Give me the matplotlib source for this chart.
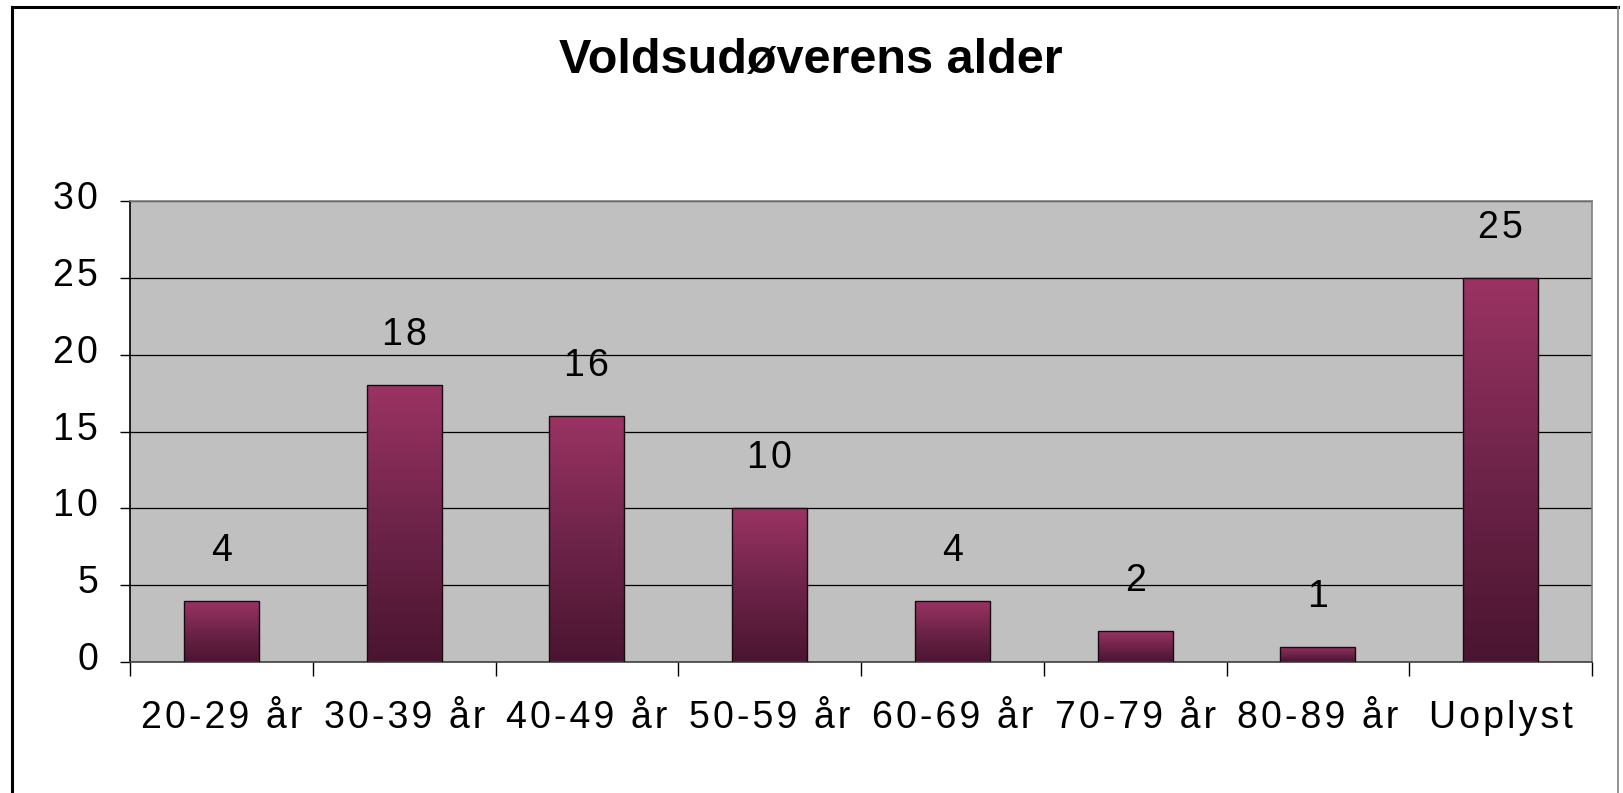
import numpy as np
import matplotlib.pyplot as plt
from matplotlib.colors import LinearSegmentedColormap
from matplotlib.lines import Line2D
import matplotlib.transforms as mtransforms

plt.rcParams['font.family'] = ['Liberation Sans', 'DejaVu Sans']

categories = ["20-29 år", "30-39 år", "40-49 år", "50-59 år",
              "60-69 år", "70-79 år", "80-89 år", "Uoplyst"]
values = [4, 18, 16, 10, 4, 2, 1, 25]
yticks = [0, 5, 10, 15, 20, 25, 30]


def spaced(s):
    # old Excel renders text with a bit of extra letter spacing
    return '\u200a'.join(s)


W, H = 1623, 793
fig = plt.figure(figsize=(W/100, H/100), dpi=100)
ax = fig.add_axes([130/W, 1 - 662/H, (1592-130)/W, (662-201)/H])
ax.set_facecolor('#c0c0c0')

cmap = LinearSegmentedColormap.from_list('plum', ['#4a1530', '#6e2449', '#9b3363'])
grad = np.linspace(0, 1, 256).reshape(-1, 1)

bw = 0.41
x = np.arange(len(categories))
bars = ax.bar(x, values, width=bw, color='none', edgecolor='#1a0a10', linewidth=1.0, zorder=3)
for b, v in zip(bars, values):
    x0 = b.get_x()
    im = ax.imshow(grad, cmap=cmap, origin='lower', aspect='auto',
                   extent=[x0, x0 + b.get_width(), 0, v], zorder=2.5)
    im.set_clip_path(b)
    ax.annotate(spaced(str(v)), (b.get_x() + b.get_width()/2, v), xytext=(0, 36),
                textcoords='offset points', ha='center', va='center', fontsize=27)

ax.set_xlim(-0.5, len(categories) - 0.5)
ax.set_ylim(0, 30)
ax.set_yticks(yticks)
ax.set_yticklabels([spaced(str(t)) for t in yticks])
ax.yaxis.grid(True, color='black', linewidth=0.9)
ax.set_axisbelow(True)

ax.set_xticks(np.arange(-0.5, len(categories)), minor=False)
ax.set_xticklabels([])
ax.set_xticks(x, minor=True)
ax.set_xticklabels([spaced(c) for c in categories], minor=True, fontsize=27)
ax.tick_params(axis='x', which='major', direction='out', length=10, width=1.0, color='black')
ax.tick_params(axis='x', which='minor', length=0, pad=27)
ax.tick_params(axis='y', direction='out', length=7, width=1.0, color='black', labelsize=27, pad=16)

off = mtransforms.ScaledTranslation(0, 6/100, fig.dpi_scale_trans)
for lab in ax.get_yticklabels():
    lab.set_transform(lab.get_transform() + off)

ax.spines['top'].set_color('#808080')
ax.spines['right'].set_color('#808080')
ax.spines['bottom'].set_color('#404040')
ax.spines['left'].set_color('black')
for s in ax.spines.values():
    s.set_linewidth(1.2)

fig.text(811/W, 1 - 60/H, "Voldsudøverens alder", ha='center', va='center',
         fontsize=35, fontweight='bold')

# chart frame
fig.add_artist(Line2D([12/W, 12/W], [0, 1 - 7/H], color='black', linewidth=2.2, transform=fig.transFigure))
fig.add_artist(Line2D([12/W, 1618/W], [1 - 7/H, 1 - 7/H], color='black', linewidth=2.2, transform=fig.transFigure))
fig.add_artist(Line2D([1618/W, 1618/W], [0, 1 - 7/H], color='#808080', linewidth=1.2, transform=fig.transFigure))

fig.savefig('out.png', dpi=100)
